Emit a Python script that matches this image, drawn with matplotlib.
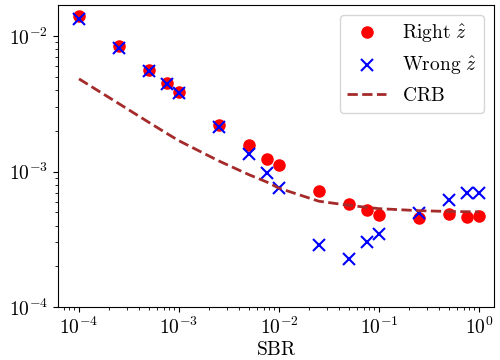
import matplotlib
matplotlib.use("Agg")
import matplotlib.pyplot as plt

plt.rcParams['mathtext.fontset'] = 'cm'
plt.rcParams['font.family'] = 'cmr10'
plt.rcParams['axes.formatter.use_mathtext'] = True
plt.rcParams['font.size'] = 14

# SNR grid (signal-to-background ratio)
sbr = [1e-4, 2.5e-4, 5e-4, 7.5e-4, 1e-3, 2.5e-3, 5e-3, 7.5e-3, 1e-2,
       2.5e-2, 5e-2, 7.5e-2, 1e-1, 2.5e-1, 5e-1, 7.5e-1, 1.0]

# errors
right_z = [0.0140, 0.00849, 0.00561, 0.00448, 0.00389, 0.00220, 0.00156,
           0.00125, 0.00111, 0.000718, 0.000580, 0.000519, 0.000477,
           0.000456, 0.000485, 0.000461, 0.000467]
wrong_z = [0.01345, 0.00817, 0.00557, 0.00444, 0.00381, 0.00213, 0.00135,
           0.000977, 0.000755, 0.000288, 0.000226, 0.000304, 0.000348,
           0.000495, 0.000614, 0.000695, 0.000695]
crb = [0.00484, 0.00318, 0.00231, 0.00192, 0.00169, 0.00120, 0.00095,
       0.00084, 0.000755, 0.000605, 0.000564, 0.000545, 0.000533,
       0.000515, 0.000508, 0.000506, 0.000505]

fig = plt.figure(figsize=(5, 3.6), dpi=100)
ax = fig.add_subplot(111)
fig.subplots_adjust(left=0.116, right=0.988, top=0.986, bottom=0.147)

ax.plot(sbr, right_z, 'o', color='red', markersize=8, label=r'$\mathrm{Right}\ \hat{z}$')
ax.plot(sbr, wrong_z, 'x', color='blue', markersize=8, markeredgewidth=1.5,
        label=r'$\mathrm{Wrong}\ \hat{z}$')
ax.plot(sbr, crb, '--', color='brown', linewidth=2, label=r'$\mathrm{CRB}$')

ax.set_xscale('log')
ax.set_yscale('log')
ax.set_xlim(10**-4.21, 10**0.15)
ax.set_ylim(1e-4, 10**-1.77)
ax.set_xlabel(r'$\mathrm{SBR}$', labelpad=2)

ax.legend(loc='upper right')

plt.savefig("out.png")
